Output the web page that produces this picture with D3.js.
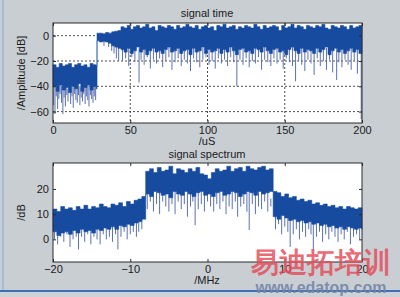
<!DOCTYPE html>
<html>
<head>
<meta charset="utf-8">
<script src="https://cdn.jsdelivr.net/npm/d3@7"></script>
<style>
body { margin: 0; background: #c9ced3; }
svg { display: block; }
text { font-family: "Liberation Sans", Arial, sans-serif; }
</style>
</head>
<body>
<svg id="chart" width="400" height="297"></svg>
<script>
// signal time: dense band (uS, dB)
const timeX = [0, 2, 4, 6, 8, 10, 12, 14, 16, 18, 20, 22, 24, 26, 28,
	28.5, 30, 32, 34, 36, 38, 40, 42,
	44, 46, 48, 50, 52, 54, 56, 58, 60, 62, 64, 66, 68, 70, 72, 74, 76, 78, 80, 82,
	84, 86, 88, 90, 92, 94, 96, 98, 100, 102, 104, 106, 108, 110, 112, 114, 116, 118,
	120, 122, 124, 126, 128, 130, 132, 134, 136, 138, 140, 142, 144, 146, 148, 150,
	152, 154, 156, 158, 160, 162, 164, 166, 168, 170, 172, 174, 176, 178, 180, 182,
	184, 186, 188, 190, 192, 194, 196, 198, 200];
const timeHi = [-23, -25, -22, -24, -23, -22, -25, -23, -22, -24, -23, -25, -22, -23, -24,
	2, 2, 1.5, 2.5, 2, 3, 3.5, 4,
	7, 6, 8, 5, 7, 8, 6, 7, 9, 6,
	7, 4, 8, 7, 6, 8, 7, 5, 8, 6,
	7, 9, 7, 6, 8, 5, 7, 8, 6, 7,
	4, 8, 7, 9, 6, 7, 8, 5, 7, 6,
	8, 7, 6, 9, 7, 5, 8, 6, 7, 8,
	7, 4, 8, 6, 7, 9, 6, 8, 7, 5,
	8, 7, 6, 8, 7, 9, 6, 5, 8, 7,
	6, 8, 7, 5, 8, 6, 7, 8, 5];
const timeLo = [-40, -44, -39, -43, -41, -45, -40, -42, -38, -44, -41, -39, -43, -40, -42,
	-4, -5, -4.5, -5, -6, -8, -9, -10,
	-11, -13, -10, -14, -12, -9, -13, -11, -15, -12,
	-10, -13, -12, -14, -11, -9, -13, -12, -10, -14,
	-12, -11, -15, -10, -13, -12, -9, -14, -11, -13,
	-12, -10, -14, -11, -13, -9, -12, -15, -11, -10,
	-13, -12, -14, -10, -11, -13, -9, -12, -14, -11,
	-10, -13, -12, -15, -11, -9, -12, -14, -10, -13,
	-11, -12, -14, -10, -13, -11, -9, -15, -12, -10,
	-13, -11, -14, -12, -10, -13, -11, -14, -12];
// downward dips below the band [uS, dB]
const timeDips = [[0.5, -55], [1.3, -62], [2.1, -48], [3, -58], [3.8, -50], [4.6, -46],
	[5.5, -53], [6.4, -62], [7.2, -49], [8, -56], [8.9, -47], [9.7, -52], [10.6, -45],
	[11.4, -54], [12.3, -48], [13.1, -57], [14, -46], [14.8, -51], [15.7, -53], [16.5, -47],
	[17.4, -55], [18.2, -49], [19.1, -52], [19.9, -46], [20.8, -54], [21.6, -48], [22.5, -51],
	[23.3, -56], [24.2, -47], [25, -50], [25.9, -53], [26.7, -48], [27.6, -51],
	[33, -8], [36, -9], [38, -12], [39.5, -14], [41, -18], [42.5, -20],
	[45, -20], [47, -18], [49, -24], [51, -17], [53, -21], [55.7, -37], [57, -19], [59, -23],
	[61, -17], [63, -26], [65, -19], [67, -22], [69, -18], [71, -25], [73, -20], [75, -17],
	[77, -27], [79, -21], [81, -18], [83, -24], [85, -19], [87, -22], [89, -28], [91, -18],
	[93, -21], [95, -25], [97, -19], [99, -17], [101, -23], [103, -20], [105, -26], [107, -18],
	[109, -22], [111, -19], [113, -24], [115, -17], [117, -21], [119, -40], [121, -19],
	[123, -23], [125, -18], [127, -25], [129, -20], [131, -22], [133, -17], [135, -27],
	[137, -19], [139, -21], [141, -24], [143, -18], [145, -22], [147, -19], [149, -26],
	[151, -18], [153, -21], [155, -24], [157, -36], [159, -20], [161, -23], [163, -28],
	[165, -19], [167, -22], [169, -31], [171, -18], [173, -24], [175, -20], [177, -27],
	[179, -19], [181, -29], [183.6, -35], [185, -21], [187, -25], [189, -19], [191, -23],
	[193, -27], [195, -20], [197, -30], [199.5, -66]];
const timeTicksX = [0, 50, 100, 150, 200];
const timeTicksY = [-60, -40, -20, 0];

// signal spectrum (MHz, dB)
const specX = [-20, -19.5, -19, -18.5, -18, -17.5, -17, -16.5, -16, -15.5, -15, -14.5,
	-14, -13.5, -13, -12.5, -12, -11.5, -11, -10.5, -10, -9.5, -9, -8.5,
	-8, -7.5, -7, -6.5, -6, -5.5, -5, -4.5, -4, -3.5, -3, -2.5, -2, -1.5, -1, -0.5,
	0, 0.5, 1, 1.5, 2, 2.5, 3, 3.5, 4, 4.5, 5, 5.5, 6, 6.5, 7, 7.5, 8,
	8.5, 9, 9.5, 10, 10.5, 11, 11.5, 12, 12.5, 13, 13.5, 14, 14.5, 15, 15.5, 16,
	16.5, 17, 17.5, 18, 18.5, 19, 19.5, 20];
const specHi = [12, 11, 13, 12, 12.5, 11.5, 13, 12, 13.5, 12, 13, 12.5,
	14, 13, 12.5, 14, 13.5, 14.5, 13, 15, 14, 15.5, 16, 17,
	27, 28, 26.5, 28.5, 27, 27.5, 29, 26, 28, 27.5,
	26.5, 28, 27, 28.5, 26, 25.5, 24, 26.5, 28, 27,
	27.5, 29, 27, 28, 28.5, 27, 29, 28, 27.5, 28.5,
	29, 27.5, 28,
	19, 18.5, 17, 18, 16.5, 17, 15.5, 16, 15, 15.5, 14, 14.5,
	13.5, 14, 13, 13.5, 12.5, 13, 12, 13, 12.5, 12, 12.5, 12];
const specLo = [3, 1.5, 2.5, 3, 2, 3.5, 2.5, 4, 3, 3.5, 2.5, 4,
	3.5, 4.5, 4, 5, 4, 5.5, 5, 6, 5.5, 6.5, 7, 8,
	18, 17, 19, 18.5, 17.5, 18, 16.5, 19, 18, 17.5,
	19, 18, 17, 18.5, 19, 17.5, 18, 17, 18.5, 19,
	17.5, 18, 19, 18.5, 17, 18, 19, 18.5, 17.5, 19,
	18, 18.5, 19,
	9, 8, 9.5, 8.5, 7.5, 8, 7, 7.5, 6.5, 7, 6, 6.5,
	5.5, 6, 5, 5.5, 4.5, 5, 4, 5, 4.5, 4, 4.5, 4];
const specDips = [[-19.8, 0], [-19.4, -2], [-19, 1], [-18.6, -1], [-18.2, 2], [-17.8, -3],
	[-17.4, 0], [-17, 1], [-16.7, -4], [-16.3, 1], [-15.9, -1], [-15.5, 2], [-15.1, -2],
	[-14.7, 1], [-14.3, 0], [-13.9, -2], [-13.5, 2], [-13.1, 0], [-12.7, 1], [-12.3, -1],
	[-11.9, 2], [-11.6, -4], [-11.2, 1], [-10.8, 3], [-10.4, 0], [-10, 2], [-9.6, 3],
	[-9.2, 1], [-8.9, 3], [-8.5, 4],
	[-7.8, 12], [-7.4, 15], [-7, 11], [-6.6, 14], [-6.2, 10], [-5.8, 15], [-5.4, 13],
	[-5, 11], [-4.6, 14], [-4.2, 10], [-3.8, 15], [-3.4, 12], [-3, 14], [-2.6, 9],
	[-2.2, 13], [-1.9, 15], [-1.6, 5.6], [-1.2, 12], [-0.8, 14], [-0.4, 11], [0, 15],
	[0.4, 13], [0.8, 11], [1.2, 14], [1.6, 12], [2, 15], [2.4, 10], [2.8, 13], [3.2, 12],
	[3.6, 15], [3.9, 9], [4.3, 13], [4.7, 14], [5.1, 11], [5.4, 3.7], [5.8, 14], [6.2, 10],
	[6.6, 13], [7, 12], [7.4, 15], [7.8, 11], [8.2, 13],
	[8.8, 4], [9.2, 6], [9.6, 2], [10, 5], [10.4, 3], [10.7, -3], [11.1, 2], [11.5, 4],
	[11.9, 0], [12.3, 3], [12.7, 1], [13.1, 4], [13.4, 2], [13.7, -4], [14.1, 1], [14.5, 3],
	[14.9, -1], [15.3, 2], [15.7, 0], [16.1, 3], [16.5, 1], [16.9, -1], [17.3, 2], [17.7, 0],
	[18.1, 3], [18.5, -2], [18.9, 1], [19.3, 2], [19.7, 0]];
const specTicksX = [-20, -10, 0, 10, 20];
const specTicksY = [0, 10, 20];

const svg = d3.select('#chart');

svg.append('rect').attr('x', 2).attr('y', 0).attr('width', 2).attr('height', 291).attr('fill', '#a4bcdc');
svg.append('rect').attr('x', 0).attr('y', 290).attr('width', 400).attr('height', 2).attr('fill', '#3f6fb3');
svg.append('rect').attr('x', 0).attr('y', 292).attr('width', 400).attr('height', 5).attr('fill', '#cdd2d7');

function drawPanel(opt) {
	let x = d3.scaleLinear().domain(opt.xDomain).range([53, 362]);
	let y = d3.scaleLinear().domain(opt.yDomain).range([opt.bottom, opt.top]);
	let g = svg.append('g');

	g.append('rect')
		.attr('x', 53).attr('y', opt.top)
		.attr('width', 309).attr('height', opt.bottom - opt.top)
		.attr('fill', '#fff');

	if (opt.grid) {
		g.selectAll('.gx').data(opt.ticksX.slice(1, -1)).enter().append('line')
			.attr('x1', (d) => x(d)).attr('x2', (d) => x(d))
			.attr('y1', opt.top).attr('y2', opt.bottom)
			.attr('stroke', '#222').attr('stroke-width', 0.8).attr('stroke-dasharray', '2,2');
		g.selectAll('.gy').data(opt.ticksY).enter().append('line')
			.attr('x1', 53).attr('x2', 362)
			.attr('y1', (d) => y(d)).attr('y2', (d) => y(d))
			.attr('stroke', '#222').attr('stroke-width', 0.8).attr('stroke-dasharray', '2,2');
	}

	let loAt = d3.scaleLinear().domain(opt.bandX).range(opt.bandLo);

	g.selectAll('.dip').data(opt.dips).enter().append('line')
		.attr('x1', (d) => x(d[0])).attr('x2', (d) => x(d[0]))
		.attr('y1', (d) => y(loAt(d[0])) - 3).attr('y2', (d) => y(d[1]))
		.attr('stroke', '#5a70b4').attr('stroke-width', 1);

	let area = d3.area()
		.curve(d3.curveStepAfter)
		.x((d, i) => x(opt.bandX[i]))
		.y0((d, i) => y(opt.bandLo[i]))
		.y1((d, i) => y(opt.bandHi[i]));

	g.append('path')
		.datum(opt.bandX)
		.attr('d', area)
		.attr('fill', '#164b9f')
		.attr('stroke', '#164b9f')
		.attr('stroke-width', 0.6);

	g.append('rect')
		.attr('x', 53).attr('y', opt.top)
		.attr('width', 309).attr('height', opt.bottom - opt.top)
		.attr('fill', 'none').attr('stroke', '#2a2a2a').attr('stroke-width', 1);

	let axes = [
		[d3.axisBottom(x).tickValues(opt.ticksX), 'translate(0,' + opt.bottom + ')', true, 3],
		[d3.axisTop(x).tickValues(opt.ticksX), 'translate(0,' + opt.top + ')', false, 3],
		[d3.axisLeft(y).tickValues(opt.ticksY), 'translate(53,0)', true, 4],
		[d3.axisRight(y).tickValues(opt.ticksY), 'translate(362,0)', false, 4]
	];

	axes.forEach((a) => {
		let ax = g.append('g')
			.attr('transform', a[1])
			.call(a[0].tickSize(-3).tickPadding(a[3]).tickFormat(a[2] ? d3.format('d') : ''));
		ax.select('.domain').remove();
		ax.selectAll('line').attr('stroke', '#2a2a2a');
		ax.selectAll('text').attr('font-size', 11).attr('fill', '#1a1a1a')
			.attr('font-family', '"Liberation Sans", Arial, sans-serif');
	});

	g.append('text')
		.attr('x', 207).attr('y', opt.top - opt.titleGap)
		.attr('text-anchor', 'middle').attr('font-size', 11).attr('fill', '#1a1a1a')
		.text(opt.title);

	g.append('text')
		.attr('x', 207).attr('y', opt.bottom + 22)
		.attr('text-anchor', 'middle').attr('font-size', 11).attr('fill', '#1a1a1a')
		.text(opt.xLabel);

	g.append('text')
		.attr('transform', 'translate(25,' + ((opt.top + opt.bottom) / 2) + ') rotate(-90)')
		.attr('text-anchor', 'middle').attr('font-size', 11).attr('fill', '#1a1a1a')
		.text(opt.yLabel);
}

drawPanel({
	title: 'signal time',
	xLabel: '/uS',
	yLabel: '/Amplitude [dB]',
	xDomain: [0, 200],
	yDomain: [-69, 10],
	top: 23,
	bottom: 123,
	titleGap: 6,
	ticksX: timeTicksX,
	ticksY: timeTicksY,
	grid: true,
	bandX: timeX,
	bandHi: timeHi,
	bandLo: timeLo,
	dips: timeDips
});

drawPanel({
	title: 'signal spectrum',
	xLabel: '/MHz',
	yLabel: '/dB',
	xDomain: [-20, 20],
	yDomain: [-9, 30.3],
	top: 163,
	bottom: 262,
	titleGap: 5,
	ticksX: specTicksX,
	ticksY: specTicksY,
	grid: false,
	bandX: specX,
	bandHi: specHi,
	bandLo: specLo,
	dips: specDips
});

// site watermark
svg.append('text')
	.attr('x', 321).attr('y', 272)
	.attr('text-anchor', 'middle')
	.attr('font-family', '"Noto Sans CJK SC", sans-serif')
	.attr('font-size', 28).attr('font-weight', 'bold')
	.attr('fill', '#e4505c').attr('fill-opacity', 0.85)
	.text('易迪拓培训');

svg.append('text')
	.attr('x', 321).attr('y', 293)
	.attr('text-anchor', 'middle')
	.attr('font-size', 16).attr('font-weight', 'bold')
	.attr('fill', '#7484a6').attr('fill-opacity', 0.9)
	.text('www.edatop.com');
</script>
</body>
</html>
